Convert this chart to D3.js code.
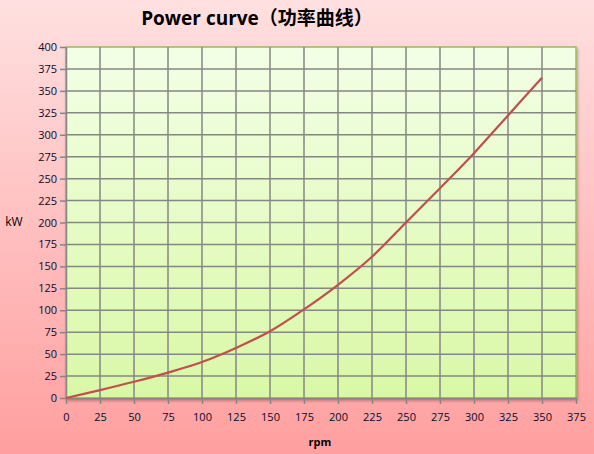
<!DOCTYPE html>
<html>
<head>
<meta charset="utf-8">
<script src="https://cdn.jsdelivr.net/npm/d3@7"></script>
<style>
  body { margin: 0; }
  text { font-family: "Open Sans", "Noto Sans CJK SC", sans-serif; }
</style>
</head>
<body>
<div id="chart"></div>
<script>
// values
const rpm = [0, 25, 50, 75, 100, 125, 150, 175, 200, 225, 250, 275, 300, 325, 350];
const kw = [0, 9, 18.5, 29, 41, 57, 76, 101, 129, 161, 200, 239, 279, 322, 365];
const xTicks = d3.range(0, 376, 25);
const yTicks = d3.range(0, 401, 25);

const W = 594, H = 454;
const margin = {top: 47, right: 18, bottom: 56, left: 66},
    width = W - margin.left - margin.right,
    height = H - margin.top - margin.bottom;

const root = d3.select("#chart")
  .append("svg")
    .attr("width", W)
    .attr("height", H);

const defs = root.append("defs");
const bg = defs.append("linearGradient").attr("id", "bg").attr("x1", 0).attr("y1", 0).attr("x2", 0).attr("y2", 1);
bg.append("stop").attr("offset", "0%").attr("stop-color", "#ffe0e0");
bg.append("stop").attr("offset", "100%").attr("stop-color", "#ff9f9f");
const pg = defs.append("linearGradient").attr("id", "pg").attr("x1", 0).attr("y1", 0).attr("x2", 0).attr("y2", 1);
pg.append("stop").attr("offset", "0%").attr("stop-color", "#f3ffe6");
pg.append("stop").attr("offset", "100%").attr("stop-color", "#d9f8a6");
const sh = defs.append("filter").attr("id", "shadow").attr("x", "-5%").attr("y", "-5%").attr("width", "110%").attr("height", "110%");
sh.append("feDropShadow").attr("dx", 1).attr("dy", 2).attr("stdDeviation", 1.5)
  .attr("flood-color", "#000").attr("flood-opacity", 0.3);

root.append("rect").attr("width", W).attr("height", H).attr("fill", "url(#bg)");

// title
root.append("text")
  .attr("x", 257)
  .attr("y", 25)
  .attr("text-anchor", "middle")
  .attr("font-size", 19)
  .attr("font-weight", "bold")
  .attr("fill", "#000")
  .text("Power curve（功率曲线）");

const svg = root.append("g")
  .attr("transform", `translate(${margin.left},${margin.top})`);

const x = d3.scaleLinear().domain([0, 375]).range([0, width]);
const y = d3.scaleLinear().domain([0, 400]).range([height, 0]);

// plot area
svg.append("rect")
  .attr("width", width)
  .attr("height", height)
  .attr("fill", "url(#pg)")
  .attr("stroke", "#9bbb59")
  .attr("stroke-width", 1.5)
  .attr("filter", "url(#shadow)");

// grid
svg.append("g")
  .selectAll("line.v")
  .data(xTicks.slice(1, -1))
  .join("line")
    .attr("x1", d => x(d)).attr("x2", d => x(d))
    .attr("y1", 0).attr("y2", height)
    .attr("stroke", "#868686").attr("stroke-width", 1.5);
svg.append("g")
  .selectAll("line.h")
  .data(yTicks.slice(1, -1))
  .join("line")
    .attr("x1", 0).attr("x2", width)
    .attr("y1", d => y(d)).attr("y2", d => y(d))
    .attr("stroke", "#868686").attr("stroke-width", 1.5);

// X axis
const xAxis = svg.append("g")
  .attr("transform", `translate(0, ${height})`)
  .call(d3.axisBottom(x).tickValues(xTicks).tickSizeInner(6).tickSizeOuter(0).tickPadding(9));
// Y axis
const yAxis = svg.append("g")
  .call(d3.axisLeft(y).tickValues(yTicks).tickSizeInner(6).tickSizeOuter(0).tickPadding(3));

[xAxis, yAxis].forEach(a => {
  a.select(".domain").attr("stroke", "#868686").attr("stroke-width", 1.5);
  a.selectAll(".tick line").attr("stroke", "#868686").attr("stroke-width", 1.5);
  a.selectAll("text")
    .attr("fill", "#0a0a28")
    .attr("font-size", 11)
    .style("font-family", "'Open Sans', sans-serif");
});

// axis titles
root.append("text")
  .attr("x", 14)
  .attr("y", 226)
  .attr("text-anchor", "middle")
  .attr("font-size", 12)
  .attr("fill", "#000")
  .text("kW");
root.append("text")
  .attr("x", 320)
  .attr("y", 446)
  .attr("text-anchor", "middle")
  .attr("font-size", 11)
  .attr("font-weight", "bold")
  .attr("fill", "#000")
  .text("rpm");

// line
const line = d3.line()
  .x((d, i) => x(rpm[i]))
  .y(d => y(d))
  .curve(d3.curveCatmullRom);

svg.append("path")
  .datum(kw)
  .attr("fill", "none")
  .attr("stroke", "#c0504d")
  .attr("stroke-width", 2.25)
  .attr("d", line);
</script>
</body>
</html>
